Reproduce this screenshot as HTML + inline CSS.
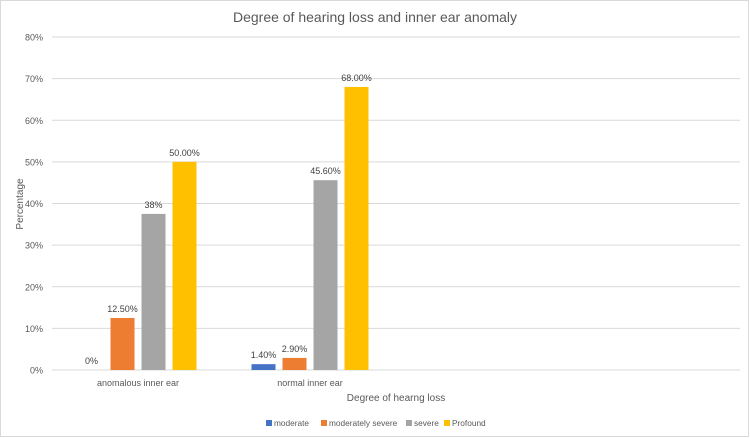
<!DOCTYPE html>
<html><head><meta charset="utf-8"><style>
body{margin:0;background:#fff}
svg{display:block;font-family:"Liberation Sans",sans-serif}
</style></head><body>
<svg id="c" width="750" height="438" viewBox="0 0 750 438">
<rect x="0.5" y="0.5" width="748" height="436" fill="#fff" stroke="#d9d9d9"/>
<text x="375" y="22" text-anchor="middle" font-size="14" fill="#595959">Degree of hearing loss and inner ear anomaly</text>
<text transform="translate(23,204) rotate(-90)" text-anchor="middle" font-size="10" fill="#595959">Percentage</text>
<text x="396" y="401" text-anchor="middle" font-size="10" fill="#595959">Degree of hearng loss</text>
<g id="grid"></g><g id="bars"></g><g id="legend"></g>
</svg>
<script>
const categories=["anomalous inner ear","normal inner ear","",""];
const seriesNames=["moderate","moderately severe","severe","Profound"];
const seriesColors=["#4472c4","#ed7d31","#a5a5a5","#ffc000"];
const moderate=[0,1.4];
const moderatelySevere=[12.5,2.9];
const severe=[37.5,45.6];
const profound=[50,68];
const labelsModerate=["0%","1.40%"];
const labelsModSevere=["12.50%","2.90%"];
const labelsSevere=["38%","45.60%"];
const labelsProfound=["50.00%","68.00%"];
const yTicks=[0,10,20,30,40,50,60,70,80];
const series=[moderate,moderatelySevere,severe,profound];
const seriesLabels=[labelsModerate,labelsModSevere,labelsSevere,labelsProfound];
const NS="http://www.w3.org/2000/svg";
const L=52,R=740,T=37,B=370,yMax=80;
const y=v=>B-(v/yMax)*(B-T);
const catW=(R-L)/categories.length;
const barW=24,step=31;
const xBar=(ci,si)=>L+catW*ci+catW/2-(series.length*step-(step-barW))/2+si*step;
function mk(tag,attrs,parent,text){const e=document.createElementNS(NS,tag);for(const k in attrs)e.setAttribute(k,attrs[k]);if(text!==undefined)e.textContent=text;parent.appendChild(e);return e;}
const grid=document.getElementById('grid');
yTicks.forEach(t=>{
 const l=mk('line',{x1:L,x2:R,y1:y(t),y2:y(t),stroke:'#d9d9d9','stroke-width':1},grid);
 
 
 const tx=mk('text',{x:L-9,y:y(t)+3.5,'text-anchor':'end','font-size':9,fill:'#595959'},grid,t+'%');
 
 
});
categories.forEach((c,ci)=>{
 if(!c)return;
 const tx=mk('text',{x:L+catW*ci+catW/2,y:386,'text-anchor':'middle','font-size':9,fill:'#595959'},grid,c);
 
 
});
const bars=document.getElementById('bars');
series.forEach((s,si)=>{
 s.forEach((v,ci)=>{
  const x=xBar(ci,si);
  const r=mk('rect',{x:x,y:y(v),width:barW,height:B-y(v),fill:seriesColors[si]},bars);
  
  
  const tx=mk('text',{x:x+barW/2,y:y(v)-6,'text-anchor':'middle','font-size':9,fill:'#404040'},bars,seriesLabels[si][ci]);
  
  
 });
});
const leg=document.getElementById('legend');
const legX=[266,321,406,444];
seriesNames.forEach((n,i)=>{
 const g=mk('g',{},leg);
 
 
 mk('rect',{x:legX[i],y:420,width:6,height:6,fill:seriesColors[i]},g);
 mk('text',{x:legX[i]+8,y:426,'font-size':8.3,fill:'#595959'},g,n);
});
</script>
</body></html>
